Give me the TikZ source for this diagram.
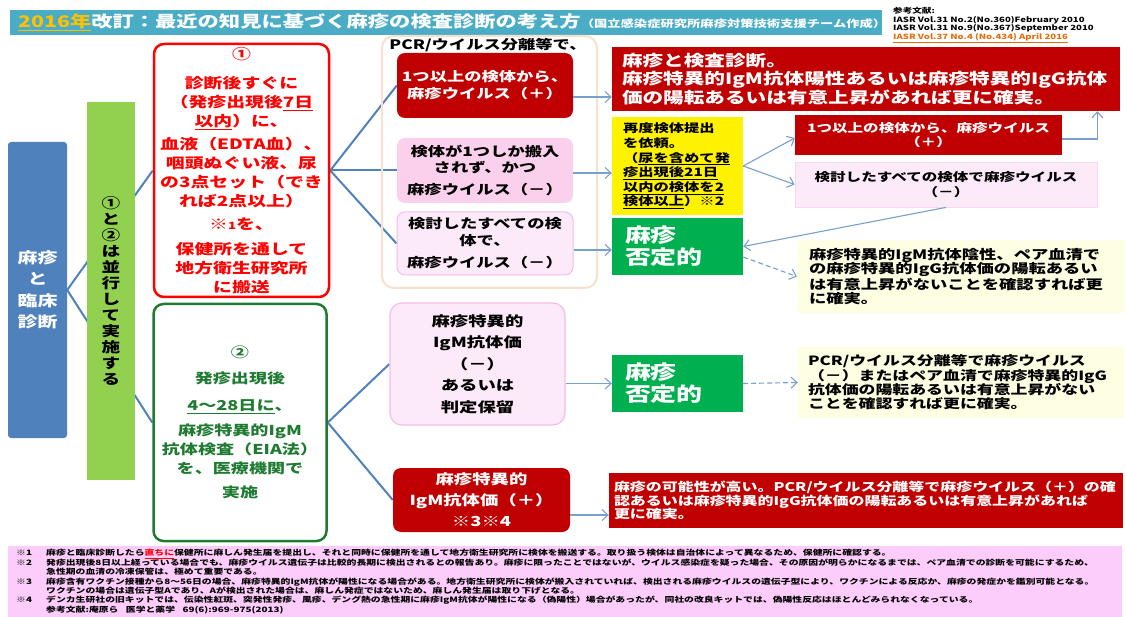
\documentclass[tikz,border=0pt]{standalone}
\usepackage{fontspec}
\setmainfont{Noto Sans CJK JP}[FakeStretch=1.33]
\usetikzlibrary{arrows.meta}
\pgfdeclarelayer{background}
\pgfsetlayers{background,main}
\definecolor{titleblue}{RGB}{75,172,198}
\definecolor{yearorange}{RGB}{255,192,0}
\definecolor{reforange}{RGB}{228,108,10}
\definecolor{diagblue}{RGB}{79,129,189}
\definecolor{barlime}{RGB}{146,208,80}
\definecolor{okgreen}{RGB}{31,122,50}
\definecolor{darkred}{RGB}{192,0,0}
\definecolor{hotpink}{RGB}{250,208,236}
\definecolor{palepink}{RGB}{253,234,249}
\definecolor{pinkline}{RGB}{240,190,234}
\definecolor{negreen}{RGB}{0,176,80}
\definecolor{cream}{RGB}{254,254,226}
\definecolor{beige}{RGB}{249,224,204}
\definecolor{notepink}{RGB}{252,204,250}
\definecolor{arrowblue}{RGB}{120,160,205}
\newcommand{\setfs}[2]{\fontsize{#1}{#2}\selectfont\bfseries}

\begin{document}
\begin{tikzpicture}[x=1pt,y=-1pt,
    every node/.style={inner sep=0pt},
    fan/.style={draw=diagblue, line width=2pt},
    arr/.style={draw=arrowblue, line width=1.1pt, -{Straight Barb[length=6pt,width=11pt]}},
    darr/.style={arr, dash pattern=on 5pt off 3pt},
    rbox/.style={rounded corners=8pt, align=center},
    lbox/.style={align=left}]

    \useasboundingbox (0,0) rectangle (1126,617);

    % Draw title
    \node[fill=titleblue, minimum width=872, minimum height=25, anchor=north west] (titlebar) at (10,10) {};
    \node[anchor=west, text=white, font=\setfs{16}{16}] (title) at (18,22.5)
        {\textcolor{yearorange}{\underline{2016年}}改訂：最近の知見に基づく麻疹の検査診断の考え方{\setfs{10}{10}（国立感染症研究所麻疹対策技術支援チーム作成）}};
    \node[anchor=north west, lbox, font=\setfs{7.2}{8.8}] (refs) at (893,7)
        {参考文献:\\IASR Vol.31 No.2(No.360)February 2010\\IASR Vol.31 No.9(No.367)September 2010\\\textcolor{reforange}{\underline{IASR Vol.37 No.4 (No.434) April 2016}}};

    % Draw left column
    \node[fill=diagblue, rounded corners=3pt, minimum width=59, minimum height=296, text=white, align=center, font=\setfs{15}{21.5}] (rinsho) at (37.5,290) {麻疹\\と\\臨床\\診断};
    \node[fill=barlime, minimum width=48, minimum height=378, align=center, font=\setfs{14}{16}] (heiko) at (111,291)
        {①\\と\\②\\は\\並\\行\\し\\て\\実\\施\\す\\る};

    % Draw step 1 and step 2
    \node[draw=red, line width=2.5pt, rbox, rounded corners=10pt, minimum width=175, minimum height=253, text=red, font=\setfs{14.2}{19}] (kensa1) at (241.5,170.5)
        {①\\[10pt]診断後すぐに\\（発疹出現後\underline{7日}\\\underline{以内}）に、\\[4pt]血液（EDTA血）、\\咽頭ぬぐい液、尿\\の3点セット（でき\\れば2点以上）\\[4pt]※{\setfs{10}{10}1}を、\\[6pt]保健所を通して\\地方衛生研究所\\に搬送};
    \node[draw=okgreen, line width=2.5pt, rbox, rounded corners=10pt, minimum width=173, minimum height=237, text=okgreen, font=\setfs{13.6}{19}] (kensa2) at (240,422.5)
        {②\\[7pt]発疹出現後\\[8pt]\underline{4～28日に}、\\[6pt]麻疹特異的IgM\\抗体検査（EIA法）\\を、医療機関で\\[5pt]実施};

    % Draw PCR results
    \node[draw=beige, line width=2pt, rounded corners=12pt, minimum width=215, minimum height=252] (pcrgroup) at (489.5,162) {};
    \node[font=\setfs{13}{13}] (pcrlabel) at (488,45) {PCR/ウイルス分離等で、};
    \node[fill=darkred, rbox, minimum width=176, minimum height=65, text=white, font=\setfs{13}{17}] (virplus) at (485,85.5) {1つ以上の検体から、\\麻疹ウイルス（＋）};
    \node[fill=hotpink, rbox, minimum width=176, minimum height=65, font=\setfs{13}{16}] (single) at (485,170.5) {検体が1つしか搬入\\されず、かつ\\[6pt]麻疹ウイルス（－）};
    \node[fill=palepink, draw=pinkline, line width=1pt, rbox, minimum width=176, minimum height=63, font=\setfs{13}{17}] (allminus) at (485,243.5) {検討したすべての検\\体で、\\[5pt]麻疹ウイルス（－）};

    % Draw IgM results
    \node[fill=palepink, draw=pinkline, line width=1.2pt, rbox, rounded corners=12pt, minimum width=175, minimum height=122, font=\setfs{13.8}{21.5}] (igmminus) at (477.5,364) {麻疹特異的\\IgM抗体価\\（－）\\あるいは\\判定保留};
    \node[fill=darkred, rbox, minimum width=177, minimum height=64, text=white, font=\setfs{13.8}{21}] (igmplus) at (481.5,500) {麻疹特異的\\IgM抗体価（＋）\\※3※4};

    % Draw conclusions
    \node[fill=darkred, lbox, text width=488, inner xsep=10pt, minimum height=64, text=white, font=\setfs{15.5}{18.5}] (kakutei) at (866,79)
        {麻疹と検査診断。\\麻疹特異的IgM抗体陽性あるいは麻疹特異的IgG抗体\\価の陽転あるいは有意上昇があれば更に確実。};
    \node[fill=yellow, lbox, text width=109, inner xsep=11pt, minimum height=98, font=\setfs{11.5}{14.6}] (saido) at (677.5,166)
        {再度検体提出\\を依頼。\\（\underline{尿を含めて発}\\\underline{疹出現後21日}\\\underline{以内の検体を2}\\\underline{検体以上}）※2};
    \node[fill=negreen, lbox, text width=105, inner xsep=13pt, minimum height=57, text=white, font=\setfs{19.5}{22}] (hitei1) at (677.5,246.5) {麻疹\\否定的};
    \node[fill=darkred, align=center, minimum width=267, minimum height=40, text=white, font=\setfs{11.7}{14.5}] (replus) at (928.5,135) {1つ以上の検体から、麻疹ウイルス\\（＋）};
    \node[fill=palepink, draw=pinkline!60, line width=0.8pt, align=center, minimum width=302, minimum height=45, font=\setfs{11.7}{14.5}] (reminus) at (946,184.5) {検討したすべての検体で麻疹ウイルス\\（－）};
    \node[fill=cream, lbox, text width=304, inner xsep=12pt, minimum height=73, font=\setfs{13}{14.5}] (note1) at (961,276.5)
        {麻疹特異的IgM抗体陰性、ペア血清で\\の麻疹特異的IgG抗体価の陽転あるい\\は有意上昇がないことを確認すれば更\\に確実。};
    \node[fill=negreen, lbox, text width=105, inner xsep=13pt, minimum height=57, text=white, font=\setfs{19.5}{22}] (hitei2) at (677.5,383.5) {麻疹\\否定的};
    \node[fill=cream, lbox, text width=306, inner xsep=10pt, minimum height=71, font=\setfs{12.7}{14.3}] (note2) at (961,382.5)
        {PCR/ウイルス分離等で麻疹ウイルス\\（－）またはペア血清で麻疹特異的IgG\\抗体価の陽転あるいは有意上昇がない\\ことを確認すれば更に確実。};
    \node[fill=darkred, lbox, text width=504, inner xsep=5pt, minimum height=55, text=white, font=\setfs{12}{13.5}] (kanosei) at (866,500.5)
        {麻疹の可能性が高い。PCR/ウイルス分離等で麻疹ウイルス（＋）の確\\認あるいは麻疹特異的IgG抗体価の陽転あるいは有意上昇があれば\\更に確実。};

    % Draw footnotes
    \node[fill=notepink, anchor=north west, lbox, text width=1098, inner xsep=8pt, minimum height=71, font=\setfs{7.4}{9.4}] (notes) at (8,546)
        {\makebox[30pt][l]{※1}麻疹と臨床診断したら\textcolor{red}{\underline{直ちに}}保健所に麻しん発生届を提出し、それと同時に保健所を通して地方衛生研究所に検体を搬送する。取り扱う検体は自治体によって異なるため、保健所に確認する。\\
         \makebox[30pt][l]{※2}発疹出現後8日以上経っている場合でも、麻疹ウイルス遺伝子は比較的長期に検出されるとの報告あり。麻疹に限ったことではないが、ウイルス感染症を疑った場合、その原因が明らかになるまでは、ペア血清での診断を可能にするため、\\
         \hspace*{30pt}急性期の血清の冷凍保管は、極めて重要である。\\
         \makebox[30pt][l]{※3}麻疹含有ワクチン接種から8～56日の場合、麻疹特異的IgM抗体が陽性になる場合がある。地方衛生研究所に検体が搬入されていれば、検出される麻疹ウイルスの遺伝子型により、ワクチンによる反応か、麻疹の発症かを鑑別可能となる。\\
         \hspace*{30pt}ワクチンの場合は遺伝子型Aであり、Aが検出された場合は、麻しん発症ではないため、麻しん発生届は取り下げとなる。\\
         \makebox[30pt][l]{※4}デンカ生研社の旧キットでは、伝染性紅斑、突発性発疹、風疹、デング熱の急性期に麻疹IgM抗体が陽性になる（偽陽性）場合があったが、同社の改良キットでは、偽陽性反応はほとんどみられなくなっている。\\
         \hspace*{30pt}参考文献:庵原ら\quad 医学と薬学\quad 69(6):969-975(2013)};

    % Draw fan lines
    \begin{pgfonlayer}{background}
        \draw[fan] (rinsho.east) -- (kensa1.west);
        \draw[fan] (rinsho.east) -- (kensa2.west);
        \draw[fan] (kensa1.east) -- (virplus.west);
        \draw[fan] (kensa1.east) -- (single.west);
        \draw[fan] (kensa1.east) -- (allminus.west);
        \draw[fan] (kensa2.east) -- (igmminus.west);
        \draw[fan] (kensa2.east) -- (igmplus.west);
    \end{pgfonlayer}

    % Draw arrows
    \draw[arr] ([yshift=-11.5pt]virplus.east) -- ([yshift=-11.5pt]virplus.east -| kakutei.west);
    \draw[arr] ([yshift=-2.5pt]single.east) -- ([yshift=-2.5pt]single.east -| saido.west);
    \draw[arr] ([yshift=-6.5pt]allminus.east) -- ([yshift=-6.5pt]allminus.east -| hitei1.west);
    \draw[arr] (saido.east) -- ([yshift=-3pt]replus.west);
    \draw[arr] (saido.east) -- (reminus.west);
    \draw[arr] ([yshift=-4pt]replus.east) -| (reminus.east |- kakutei.south);
    \draw[arr] (reminus.south) -- (hitei1.east);
    \draw[darr] ([yshift=-10.5pt]hitei1.east) -- (note1.west);
    \draw[arr] ([yshift=-19.5pt]igmminus.east) -- ([yshift=-19.5pt]igmminus.east -| hitei2.west);
    \draw[darr] (hitei2.east) -- (note2.west);
    \draw[arr] ([yshift=-15pt]igmplus.east) -- ([yshift=-15pt]igmplus.east -| kanosei.west);
\end{tikzpicture}
\end{document}
